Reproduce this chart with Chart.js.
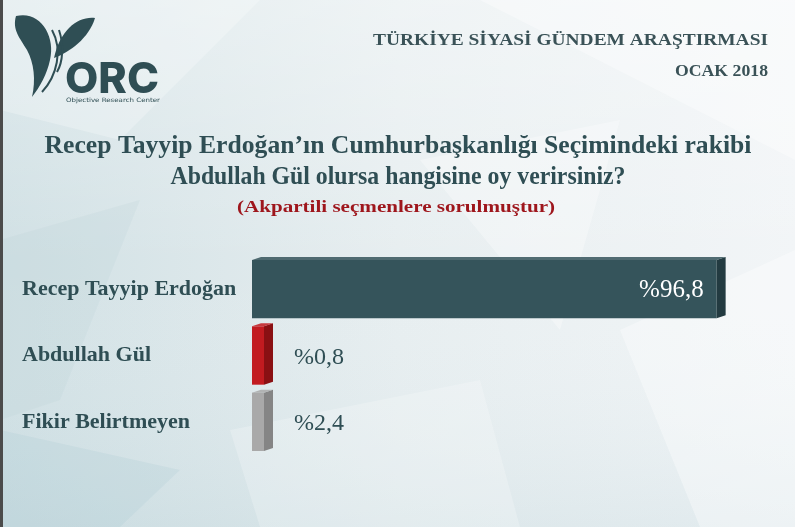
<!DOCTYPE html>
<html>
<head>
<meta charset="utf-8">
<script src="https://cdn.jsdelivr.net/npm/chart.js@4/dist/chart.umd.min.js"></script>
<style>
  html, body { margin: 0; padding: 0; background: #e9eff1; }
  canvas { display: block; }
</style>
</head>
<body>
<canvas id="chart" width="795" height="527"></canvas>
<script>
const categories = ["Recep Tayyip Erdoğan", "Abdullah Gül", "Fikir Belirtmeyen"];
const shares = [96.8, 0.8, 2.4];
const barColors = ["#35545b", "#c21b20", "#a9a9a9"];
const sideColors = ["#233b41", "#8a1013", "#858585"];
const headerLines = ["TÜRKİYE SİYASİ GÜNDEM ARAŞTIRMASI", "OCAK 2018"];
const titleLines = ["Recep Tayyip Erdoğan’ın Cumhurbaşkanlığı Seçimindeki rakibi", "Abdullah Gül olursa hangisine oy verirsiniz?"];
const subtitle = "(Akpartili seçmenlere sorulmuştur)";

const ink = "#2f4e54";
const serif = "'Liberation Serif', 'DejaVu Serif', serif";

// draws text squeezed/stretched to a given width
function fitText(ctx, text, x, y, width, align) {
  const w = ctx.measureText(text).width;
  ctx.save();
  ctx.translate(x, y);
  ctx.scale(width / w, 1);
  ctx.textAlign = align;
  ctx.fillText(text, 0, 0);
  ctx.restore();
}

function drawBackground(ctx, w, h) {
  const g = ctx.createLinearGradient(0, 0, w, 0);
  g.addColorStop(0, "#d0e0e4");
  g.addColorStop(0.5, "#e7eef0");
  g.addColorStop(1, "#f2f5f7");
  ctx.fillStyle = g;
  ctx.fillRect(0, 0, w, h);

  const v = ctx.createLinearGradient(0, 0, 0, h);
  v.addColorStop(0, "rgba(255,255,255,0.35)");
  v.addColorStop(0.5, "rgba(255,255,255,0)");
  v.addColorStop(1, "rgba(170,200,208,0.2)");
  ctx.fillStyle = v;
  ctx.fillRect(0, 0, w, h);

  // faceted shapes
  const facets = [
    [[0, 0], [260, 0], [120, 140], [0, 110], "rgba(255,255,255,0.25)"],
    [[480, 0], [795, 0], [795, 160], "rgba(255,255,255,0.35)"],
    [[0, 240], [140, 200], [60, 400], [0, 420], "rgba(185,210,216,0.22)"],
    [[420, 160], [620, 120], [560, 330], "rgba(255,255,255,0.30)"],
    [[620, 330], [795, 250], [795, 527], [700, 527], "rgba(255,255,255,0.35)"],
    [[230, 430], [480, 380], [520, 527], [260, 527], "rgba(255,255,255,0.22)"],
    [[0, 430], [180, 470], [120, 527], [0, 527], "rgba(170,200,208,0.22)"]
  ];
  facets.forEach(f => {
    ctx.beginPath();
    for (let i = 0; i < f.length - 1; i++) {
      if (i === 0) ctx.moveTo(f[i][0], f[i][1]);
      else ctx.lineTo(f[i][0], f[i][1]);
    }
    ctx.closePath();
    ctx.fillStyle = f[f.length - 1];
    ctx.fill();
  });

  ctx.fillStyle = "#4b4b4b";
  ctx.fillRect(0, 0, 3, h);
}

function drawLogo(ctx) {
  ctx.save();
  ctx.fillStyle = ink;
  // big left leaf
  ctx.beginPath();
  ctx.moveTo(16, 16);
  ctx.bezierCurveTo(40, 10, 56, 36, 50, 60);
  ctx.bezierCurveTo(47, 74, 40, 87, 32, 97);
  ctx.bezierCurveTo(36, 80, 34, 63, 27, 50);
  ctx.bezierCurveTo(20, 38, 12, 30, 16, 16);
  ctx.fill();
  // right leaf
  ctx.beginPath();
  ctx.moveTo(95, 18);
  ctx.bezierCurveTo(78, 16, 60, 30, 54, 58);
  ctx.bezierCurveTo(70, 52, 89, 38, 95, 18);
  ctx.fill();
  // inner outline leaves
  ctx.strokeStyle = ink;
  ctx.lineWidth = 2;
  ctx.beginPath();
  ctx.moveTo(52, 30);
  ctx.bezierCurveTo(63, 50, 57, 76, 42, 92);
  ctx.stroke();
  ctx.beginPath();
  ctx.moveTo(59, 30);
  ctx.bezierCurveTo(64, 45, 63, 62, 57, 72);
  ctx.stroke();

  ctx.font = "800 43px Inter, 'DejaVu Sans', sans-serif";
  ctx.textBaseline = "alphabetic";
  fitText(ctx, "ORC", 65, 93, 94, "left");
  ctx.font = "6px 'DejaVu Sans', sans-serif";
  fitText(ctx, "Objective Research Center", 66, 102, 94, "left");
  ctx.restore();
}

const decorPlugin = {
  id: "decor",
  beforeDraw(chart) {
    const ctx = chart.ctx;
    ctx.save();
    drawBackground(ctx, chart.width, chart.height);
    drawLogo(ctx);

    ctx.fillStyle = "#3a5257";
    ctx.textBaseline = "alphabetic";
    ctx.font = "bold 17px " + serif;
    fitText(ctx, headerLines[0], 768, 45, 395, "right");
    fitText(ctx, headerLines[1], 768, 76, 93, "right");

    ctx.fillStyle = ink;
    ctx.font = "bold 25px " + serif;
    fitText(ctx, titleLines[0], 398, 153, 707, "center");
    fitText(ctx, titleLines[1], 398, 184, 455, "center");

    ctx.fillStyle = "#9e161c";
    ctx.font = "bold 16px " + serif;
    fitText(ctx, subtitle, 396, 212, 318, "center");
    ctx.restore();
  },
  afterDatasetsDraw(chart) {
    const ctx = chart.ctx;
    const meta = chart.getDatasetMeta(0);
    ctx.save();
    meta.data.forEach((bar, i) => {
      const p = bar.getProps(["x", "y", "base", "height"], true);
      const top = p.y - p.height / 2;
      const bottom = p.y + p.height / 2;
      const d = 9, up = 3;
      // side face
      ctx.fillStyle = sideColors[i];
      ctx.beginPath();
      ctx.moveTo(p.x, top);
      ctx.lineTo(p.x + d, top - up);
      ctx.lineTo(p.x + d, bottom - up);
      ctx.lineTo(p.x, bottom);
      ctx.closePath();
      ctx.fill();
      // top face
      ctx.fillStyle = barColors[i];
      ctx.globalAlpha = 0.85;
      ctx.beginPath();
      ctx.moveTo(p.base, top);
      ctx.lineTo(p.base + d, top - up);
      ctx.lineTo(p.x + d, top - up);
      ctx.lineTo(p.x, top);
      ctx.closePath();
      ctx.fill();
      ctx.globalAlpha = 1;

      const label = "%" + String(shares[i]).replace(".", ",");
      ctx.textBaseline = "middle";
      if (shares[i] > 50) {
        ctx.fillStyle = "#ffffff";
        ctx.font = "25px " + serif;
        ctx.textAlign = "right";
        ctx.fillText(label, p.x - 13, p.y + 1);
      } else {
        ctx.fillStyle = ink;
        ctx.font = "24px " + serif;
        ctx.textAlign = "left";
        ctx.fillText(label, p.x + 30, p.y + 2);
      }
    });
    ctx.restore();
  }
};

new Chart(document.getElementById("chart"), {
  type: "bar",
  data: {
    labels: categories,
    datasets: [{
      data: shares,
      backgroundColor: barColors,
      borderWidth: 0,
      barPercentage: 0.88,
      categoryPercentage: 1,
      minBarLength: 12
    }]
  },
  options: {
    indexAxis: "y",
    responsive: false,
    animation: false,
    layout: { padding: { top: 256, bottom: 72, left: 22, right: 63 } },
    plugins: {
      legend: { display: false },
      tooltip: { enabled: false }
    },
    scales: {
      x: { display: false, min: 0, max: 100 },
      y: {
        grid: { display: false },
        border: { display: false },
        ticks: {
          crossAlign: "far",
          color: ink,
          font: { family: serif, size: 22, weight: "bold" }
        },
        afterFit: axis => { axis.width = 230; }
      }
    }
  },
  plugins: [decorPlugin]
});
</script>
</body>
</html>
